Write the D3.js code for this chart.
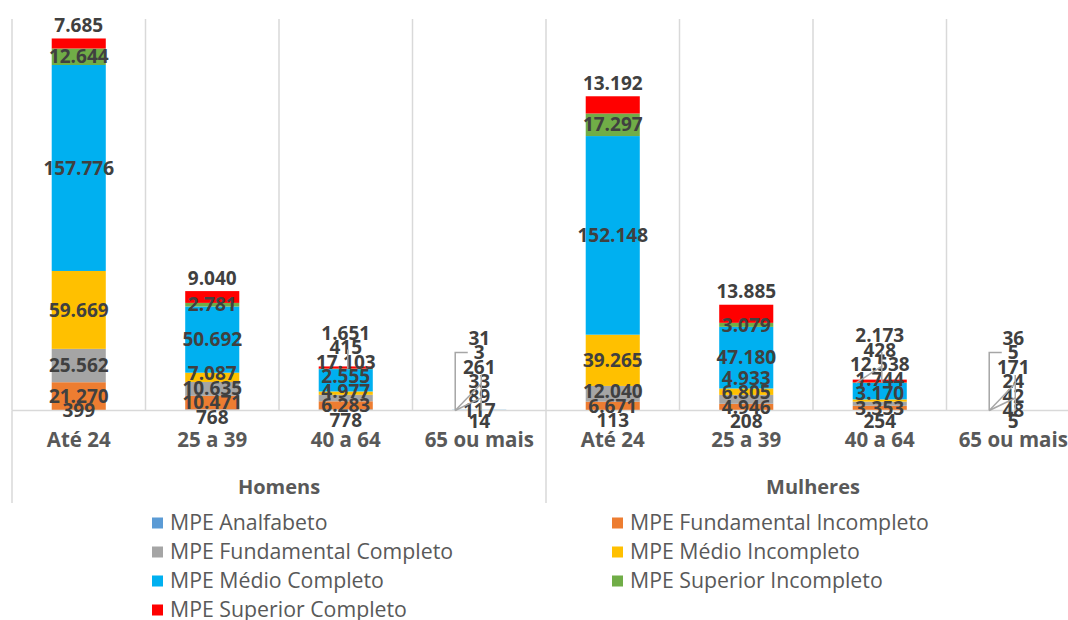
<!DOCTYPE html>
<html lang="pt-BR">
<head>
<meta charset="utf-8">
<title>MPE por faixa etária e escolaridade</title>
<script src="https://cdn.jsdelivr.net/npm/d3@7"></script>
<style>
  html, body { margin: 0; padding: 0; background: #ffffff; }
  svg { display: block; font-family: "Open Sans", "Noto Sans", sans-serif; }
</style>
</head>
<body>
<svg id="chart" width="1068" height="620"></svg>
<script>
// Faixas etárias (repetidas para cada sexo) e grupos
const ageBands = ["Até 24", "25 a 39", "40 a 64", "65 ou mais"];
const groups = ["Homens", "Mulheres"];

// Séries de escolaridade (nomes da legenda)
const seriesNames = [
  "MPE Analfabeto",
  "MPE Fundamental Incompleto",
  "MPE Fundamental Completo",
  "MPE Médio Incompleto",
  "MPE Médio Completo",
  "MPE Superior Incompleto",
  "MPE Superior Completo"
];
const seriesColors = ["#5B9BD5", "#ED7D31", "#A5A5A5", "#FFC000", "#00B0F0", "#70AD47", "#FF0000"];

// Valores: Homens (4 faixas) seguidos de Mulheres (4 faixas)
const analfabeto         = [399, 768, 778, 14, 113, 208, 254, 5];
const fundIncompleto     = [21270, 10471, 6283, 117, 6671, 4946, 3353, 48];
const fundCompleto       = [25562, 10635, 4977, 89, 12040, 6805, 3170, 42];
const medioIncompleto    = [59669, 7087, 2555, 33, 39265, 4933, 1744, 24];
const medioCompleto      = [157776, 50692, 17103, 261, 152148, 47180, 12538, 171];
const superiorIncompleto = [12644, 2781, 415, 3, 17297, 3079, 428, 5];
const superiorCompleto   = [7685, 9040, 1651, 31, 13192, 13885, 2173, 36];

const yMax = 300000;

const seriesValues = [analfabeto, fundIncompleto, fundCompleto, medioIncompleto,
                      medioCompleto, superiorIncompleto, superiorCompleto];

// Linhas da tabela usada pelo d3.stack
const keys = groups.flatMap(g => ageBands.map(a => g + "|" + a));
const rows = keys.map((k, i) => {
  const r = { key: k, group: k.split("|")[0], band: k.split("|")[1] };
  seriesNames.forEach((s, j) => { r[s] = seriesValues[j][i]; });
  return r;
});

const svg = d3.select("#chart");
const plot = { left: 12, right: 1080, top: 18.9, bottom: 410.5 };

const x = d3.scaleBand().domain(keys).range([plot.left, plot.right]).padding(0);
const barW = x.bandwidth() * 0.405;
const y = d3.scaleLinear().domain([0, yMax]).range([plot.bottom, plot.top]);

const ptFmt = d3.formatLocale({ decimal: ",", thousands: ".", grouping: [3], currency: ["R$", ""] }).format(",d");

const stacked = d3.stack().keys(seriesNames)(rows);

// Grade vertical entre categorias
const gridColor = "#D9D9D9";
const grid = svg.append("g");
keys.forEach(k => {
  grid.append("line")
    .attr("x1", x(k)).attr("x2", x(k))
    .attr("y1", plot.top).attr("y2", plot.bottom)
    .attr("stroke", gridColor).attr("stroke-width", 1.5);
});
grid.append("line")
  .attr("x1", plot.right).attr("x2", plot.right)
  .attr("y1", plot.top).attr("y2", plot.bottom)
  .attr("stroke", gridColor).attr("stroke-width", 1.5);

// Barras empilhadas
const bars = svg.append("g");
stacked.forEach((layer, j) => {
  bars.selectAll(null)
    .data(layer)
    .join("rect")
    .attr("x", d => x(d.data.key) + (x.bandwidth() - barW) / 2)
    .attr("width", barW)
    .attr("y", d => y(d[1]))
    .attr("height", d => Math.max(0, y(d[0]) - y(d[1])))
    .attr("fill", seriesColors[j]);
});

// Eixo de categorias (dois níveis)
const axisG = svg.append("g");
axisG.append("line")
  .attr("x1", plot.left).attr("x2", plot.right)
  .attr("y1", plot.bottom).attr("y2", plot.bottom)
  .attr("stroke", gridColor).attr("stroke-width", 1.5);

const groupScale = d3.scaleBand().domain(groups).range([plot.left, plot.right]).padding(0);
[plot.left, plot.left + groupScale.bandwidth(), plot.right].forEach(gx => {
  axisG.append("line")
    .attr("x1", gx).attr("x2", gx)
    .attr("y1", plot.bottom).attr("y2", 503)
    .attr("stroke", gridColor).attr("stroke-width", 1.5);
});

axisG.selectAll(null)
  .data(rows)
  .join("text")
  .attr("x", d => x(d.key) + x.bandwidth() / 2)
  .attr("y", 440)
  .attr("dy", "0.35em")
  .attr("text-anchor", "middle")
  .attr("font-size", 20.5)
  .attr("font-weight", "bold")
  .attr("fill", "#595959")
  .text(d => d.band);

axisG.selectAll(null)
  .data(groups)
  .join("text")
  .attr("x", g => groupScale(g) + groupScale.bandwidth() / 2)
  .attr("y", 487)
  .attr("dy", "0.35em")
  .attr("text-anchor", "middle")
  .attr("font-size", 20)
  .attr("font-weight", "bold")
  .attr("fill", "#595959")
  .text(g => g);

// Rótulos de dados, empilhados de baixo para cima para evitar sobreposição
const labelsG = svg.append("g");
const leaders = svg.append("g");
const step = 14.5;

rows.forEach((row, i) => {
  const cx = x(row.key) + x.bandwidth() / 2;
  const barLeft = cx - barW / 2;
  const segs = stacked.map(layer => layer[i]);
  const centers = segs.map(s => (y(s[0]) + y(s[1])) / 2);
  const barTop = y(segs[segs.length - 1][1]);
  const tiny = plot.bottom - barTop < 3;

  const pos = [];
  pos[1] = centers[1];
  pos[0] = Math.min(plot.bottom + 11, centers[1] + step);
  for (let j = 2; j < segs.length; j++) {
    const want = j === segs.length - 1 ? barTop - 13 : centers[j];
    pos[j] = Math.min(want, pos[j - 1] - step);
  }

  // Linhas de chamada para rótulos deslocados
  const lineAttrs = sel => sel.attr("fill", "none").attr("stroke", "#A6A6A6").attr("stroke-width", 1.5);
  segs.forEach((s, j) => {
    const disp = centers[j] - pos[j];
    if (j === 5 && disp > 10) {
      if (tiny) {
        const tw = ptFmt(seriesValues[j][i]).length * 11;
        const lx = cx - tw / 2 - 6;
        leaders.append("polyline")
          .attr("points", [[lx, pos[j]], [barLeft + 3, pos[j]], [barLeft + 3, plot.bottom]].join(" "))
          .call(lineAttrs);
      } else {
        leaders.append("line")
          .attr("x1", cx + 2).attr("x2", cx + 2)
          .attr("y1", pos[j] + 2).attr("y2", y(s[1]))
          .call(lineAttrs);
      }
    } else if (j >= 2 && j <= 4 && disp > (tiny ? 12 : 25)) {
      if (tiny && j === 4) {
        leaders.append("line")
          .attr("x1", cx + 2).attr("x2", cx + 2)
          .attr("y1", pos[j] + 8).attr("y2", plot.bottom)
          .call(lineAttrs);
      } else {
        leaders.append("line")
          .attr("x1", barLeft + 3).attr("y1", tiny ? plot.bottom : y(s[1]))
          .attr("x2", cx + 2).attr("y2", pos[j] + 2)
          .call(lineAttrs);
      }
    }
  });

  segs.forEach((s, j) => {
    labelsG.append("text")
      .attr("x", cx)
      .attr("y", pos[j])
      .attr("dy", "0.35em")
      .attr("text-anchor", "middle")
      .attr("font-size", 19)
      .attr("font-weight", "bold")
      .attr("fill", "#404040")
      .text(ptFmt(seriesValues[j][i]));
  });
});

// Legenda em duas colunas
const legend = svg.append("g");
const legCols = [152, 612];
const legRows = [523, 552, 581, 610];
seriesNames.forEach((name, j) => {
  const lx = legCols[j % 2];
  const ly = legRows[Math.floor(j / 2)];
  legend.append("rect")
    .attr("x", lx).attr("y", ly - 5.5)
    .attr("width", 11).attr("height", 11)
    .attr("fill", seriesColors[j]);
  legend.append("text")
    .attr("x", lx + 18)
    .attr("y", ly)
    .attr("dy", "0.35em")
    .attr("font-size", 21.3)
    .attr("fill", "#595959")
    .text(name);
});
</script>
</body>
</html>
